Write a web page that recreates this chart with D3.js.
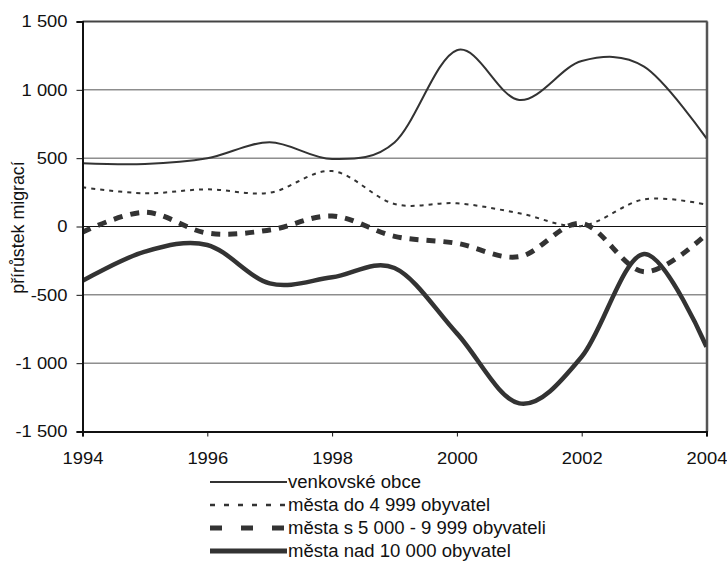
<!DOCTYPE html>
<html>
<head>
<meta charset="utf-8">
<script src="https://cdn.jsdelivr.net/npm/d3@7"></script>
<style>
  html, body { margin: 0; padding: 0; background: #fff; }
  svg { display: block; }
  text { font-family: "Liberation Sans", Arial, sans-serif; fill: #111; }
</style>
</head>
<body>
<svg id="chart" width="727" height="572"></svg>
<script>
const years = [1994, 1995, 1996, 1997, 1998, 1999, 2000, 2001, 2002, 2003, 2004];
const venkovske = [462, 457, 499, 616, 494, 615, 1290, 926, 1211, 1170, 645];
const mestaDo4999 = [287, 243, 272, 247, 406, 165, 170, 97, 4, 199, 160];
const mesta5000 = [-42, 104, -48, -26, 77, -72, -123, -221, 22, -331, -55];
const mestaNad10000 = [-397, -184, -135, -416, -372, -304, -782, -1294, -953, -201, -880];
const seriesNames = ["venkovské obce", "města do 4 999 obyvatel", "města s 5 000 - 9 999 obyvateli", "města nad 10 000 obyvatel"];
const yTicks = [-1500, -1000, -500, 0, 500, 1000, 1500];
const yTickLabels = ["-1 500", "-1 000", "-500", "0", "500", "1 000", "1 500"];
const xTicks = [1994, 1996, 1998, 2000, 2002, 2004];
const yLabel = "přírůstek migrací";

const series = [
  { name: seriesNames[0], values: venkovske, width: 2, dash: null, legDash: null, legWidth: 2 },
  { name: seriesNames[1], values: mestaDo4999, width: 2, dash: "4,5", legDash: "5,9", legWidth: 2.5 },
  { name: seriesNames[2], values: mesta5000, width: 5, dash: "9,8", legDash: "12,19", legWidth: 5 },
  { name: seriesNames[3], values: mestaNad10000, width: 4.5, dash: null, legDash: null, legWidth: 5 }
];

const FS = 17, STRETCH = 1.08;
const svg = d3.select("#chart");
const L = 82.5, R = 706.5, T = 21.5, B = 431.5;
const x = d3.scaleLinear().domain([1994, 2004]).range([L, R]);
const y = d3.scaleLinear().domain([-1500, 1500]).range([B, T]);

function stretch(sel, k) {
  sel.each(function () {
    const w = this.getComputedTextLength();
    d3.select(this).attr("textLength", w * (k || STRETCH)).attr("lengthAdjust", "spacingAndGlyphs");
  });
}

// gridlines
svg.append("g").selectAll("line").data(yTicks.filter(v => v > -1500 && v < 1500)).join("line")
  .attr("x1", L).attr("x2", R).attr("y1", d => y(d)).attr("y2", d => y(d))
  .attr("stroke", d => d === 0 ? "#111" : "#555").attr("stroke-width", 1);

// frame top & right
svg.append("line").attr("x1", L).attr("x2", R + 1).attr("y1", T).attr("y2", T).attr("stroke", "#444").attr("stroke-width", 2);
svg.append("line").attr("x1", R + 0.5).attr("x2", R + 0.5).attr("y1", T).attr("y2", B).attr("stroke", "#555").attr("stroke-width", 2.5);

// series
const line = d3.line().x((d, i) => x(years[i])).y(d => y(d)).curve(d3.curveCardinal.tension(0));
const clipId = "clipPlot";
svg.append("clipPath").attr("id", clipId).append("rect").attr("x", L).attr("y", T - 5).attr("width", R - L).attr("height", B - T + 10);
const gS = svg.append("g").attr("clip-path", `url(#${clipId})`);
series.forEach(s => {
  gS.append("path").attr("d", line(s.values)).attr("fill", "none")
    .attr("stroke", "#333").attr("stroke-width", s.width)
    .attr("stroke-dasharray", s.dash).attr("stroke-linejoin", "round");
});

// axes
const yAxis = d3.axisLeft(y).tickValues(yTicks).tickFormat((d, i) => yTickLabels[i]).tickSize(6).tickPadding(9);
const gy = svg.append("g").attr("transform", `translate(${L},0)`).call(yAxis);
gy.select(".domain").attr("stroke", "#111").attr("stroke-width", 2);
gy.selectAll(".tick line").attr("stroke", "#111").attr("stroke-width", 1);
gy.selectAll(".tick text").attr("font-size", FS).attr("fill", "#111").style("font-family", "Liberation Sans, Arial, sans-serif").call(stretch);

const xAxis = d3.axisBottom(x).tickValues(xTicks).tickFormat(d3.format("d")).tickSize(5).tickPadding(15);
const gx = svg.append("g").attr("transform", `translate(0,${B})`).call(xAxis);
gx.select(".domain").attr("stroke", "#111").attr("stroke-width", 2);
gx.selectAll(".tick line").attr("stroke", "#111").attr("stroke-width", 1);
gx.selectAll(".tick text").attr("font-size", FS).attr("fill", "#111").style("font-family", "Liberation Sans, Arial, sans-serif").call(stretch);

// y label
svg.append("text").attr("transform", `translate(23.5,${(T + B) / 2 + 1}) rotate(-90)`)
  .attr("text-anchor", "middle").attr("font-size", 17.8).text(yLabel);

// legend
const legX1 = 210, legX2 = 287, legY0 = 482, legStep = 23;
series.forEach((s, i) => {
  const yy = legY0 + i * legStep;
  svg.append("line").attr("x1", legX1).attr("x2", legX2).attr("y1", yy).attr("y2", yy)
    .attr("stroke", "#333").attr("stroke-width", s.legWidth).attr("stroke-dasharray", s.legDash);
  svg.append("text").attr("x", legX2 + 1).attr("y", yy).attr("dy", "0.35em")
    .attr("font-size", 17.5).text(s.name).call(stretch, 1.06);
});
</script>
</body>
</html>
